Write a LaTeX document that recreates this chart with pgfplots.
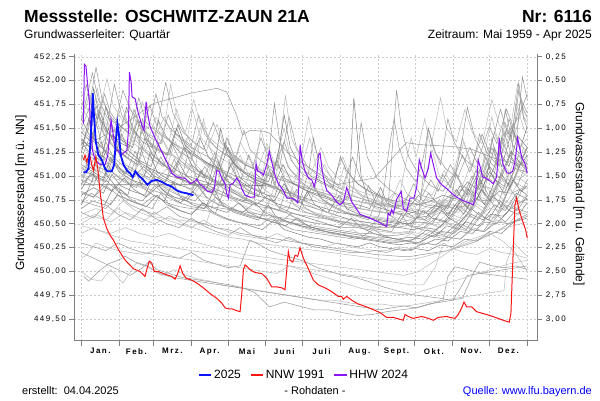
\documentclass[border=0pt]{standalone}
\usepackage{pgfplots}
\pgfplotsset{compat=1.18}
\usepackage{fontspec}
\setmainfont{Liberation Sans}
\newfontfamily\tickfont[LetterSpace=18]{Liberation Sans}
\definecolor{ga}{RGB}{150,150,150}
\definecolor{gb}{RGB}{185,185,185}
\definecolor{gc}{RGB}{125,125,125}
\definecolor{axgray}{RGB}{128,128,128}
\definecolor{gridgray}{RGB}{205,205,205}
\definecolor{c25}{RGB}{10,20,255}
\definecolor{cnnw}{RGB}{255,20,20}
\definecolor{chhw}{RGB}{140,20,250}
\definecolor{linkblue}{RGB}{0,0,255}
\pgfplotsset{
  A/.style={ga, line width=0.5pt, forget plot},
  B/.style={gb, line width=0.5pt, forget plot},
  C/.style={gc, line width=0.5pt, forget plot},
}
\begin{document}
\begin{tikzpicture}[x=1pt,y=1pt]
\useasboundingbox (0,0) rectangle (600,400);
\begin{axis}[
  at={(74.3pt,59.3pt)}, anchor=south west, scale only axis,
  width=463pt, height=286.7pt,
  xmin=-5.8, xmax=373.2, ymin=449.276, ymax=452.279,
  axis x line*=bottom, axis y line*=left,
  axis line style={draw=axgray, line width=1pt, -},
  xtick={0,31,59,90,120,151,181,212,243,273,304,334,365},
  xticklabels={},
  ytick={449.5,449.75,450,450.25,450.5,450.75,451,451.25,451.5,451.75,452,452.25},
  grid=major, major grid style={gridgray, dash pattern=on 2pt off 2pt, line width=0.5pt},
  tick style={axgray, line width=0.8pt}, major tick length=5pt, tick align=outside,
  yticklabel style={font=\tickfont\fontsize{8}{9}\selectfont,
    /pgf/number format/fixed, /pgf/number format/fixed zerofill,
    /pgf/number format/precision=2, /pgf/number format/use comma,
    /pgf/number format/assume math mode=true},
  extra x ticks={15.5,45,74.5,105,135.5,166,196.5,227.5,258,288.5,319,349.5},
  extra x tick labels={Jan.,Feb.,Mrz.,Apr.,Mai,Juni,Juli,Aug.,Sept.,Okt.,Nov.,Dez.},
  extra x tick style={grid=none, major tick length=0pt,
    tick label style={font=\tickfont\bfseries\fontsize{8}{9}\selectfont, yshift=-4pt}},
  legend style={at={(0.496,-0.12)}, anchor=center, draw=none, fill=none,
    legend columns=3, font=\fontsize{12}{14}\selectfont,
    /tikz/every even column/.append style={column sep=7pt}},
  legend image code/.code={\draw[line cap=butt, #1] (0pt,0pt) -- (12.5pt,0pt);},
  legend entries={2025,NNW 1991,HHW 2024},
]
\addlegendimage{draw=c25, line width=1.8pt}
\addlegendimage{draw=cnnw, line width=1.4pt}
\addlegendimage{draw=chhw, line width=1.4pt}
% ---------- gray yearly curves ----------
\addplot[C] coordinates {(0,451.32)(6,451.50)(10,451.92)(15,451.62)(22,451.45)(30,451.38)(37,451.72)(42,451.50)(50,451.36)(58,451.30)(63,451.58)(70,451.40)(80,451.26)(90,451.18)(97,451.40)(104,451.20)(112,451.08)(120,451.00)(130,450.94)(137,451.22)(143,451.02)(152,450.92)(162,450.86)(172,450.80)(182,450.74)(190,450.90)(197,450.76)(207,450.68)(217,450.62)(228,450.58)(238,450.55)(248,450.50)(258,450.48)(266,450.62)(273,450.56)(283,450.58)(292,450.72)(300,450.66)(310,450.90)(316,450.80)(326,451.06)(333,450.95)(343,451.24)(350,451.10)(357,451.42)(365,451.30)};
\addplot[A] coordinates {(0,451.60)(5,451.85)(9,452.08)(14,451.80)(21,451.62)(28,451.55)(34,451.90)(40,451.70)(47,451.58)(55,451.50)(61,451.86)(66,451.62)(74,451.48)(82,451.40)(90,451.32)(96,451.64)(101,451.44)(110,451.30)(118,451.22)(126,451.16)(133,451.48)(138,451.28)(147,451.16)(157,451.08)(166,451.36)(172,451.16)(181,451.02)(191,450.96)(201,450.90)(210,450.84)(220,450.80)(230,450.76)(240,450.72)(250,450.70)(259,450.66)(268,450.80)(276,450.72)(286,450.96)(292,450.84)(302,451.12)(308,450.98)(318,451.30)(324,451.14)(334,451.52)(340,451.34)(348,451.70)(354,451.50)(360,451.80)(365,451.66)};
\addplot[B] coordinates {(0,451.05)(8,451.20)(16,451.12)(24,451.42)(30,451.28)(38,451.18)(46,451.10)(53,451.36)(59,451.22)(68,451.12)(77,451.05)(86,451.30)(92,451.14)(101,451.02)(111,450.95)(121,450.88)(131,450.82)(139,451.05)(146,450.90)(156,450.80)(166,450.74)(176,450.70)(186,450.64)(196,450.60)(206,450.55)(214,450.72)(221,450.58)(231,450.50)(241,450.45)(251,450.42)(261,450.40)(271,450.42)(281,450.52)(290,450.48)(300,450.62)(310,450.56)(320,450.74)(330,450.66)(339,450.88)(347,450.80)(356,451.00)(365,450.92)};
\addplot[A] coordinates {(0,451.40)(7,451.30)(13,451.66)(20,451.46)(27,451.96)(33,451.64)(41,451.48)(48,451.40)(56,451.74)(62,451.52)(69,451.98)(75,451.66)(83,451.46)(92,451.36)(100,451.28)(108,451.56)(114,451.36)(123,451.22)(131,451.14)(140,451.08)(147,451.40)(153,451.20)(162,451.08)(170,451.62)(176,451.30)(185,451.10)(194,451.00)(204,450.92)(213,450.86)(222,451.20)(229,450.96)(239,450.84)(248,450.76)(257,450.70)(266,450.66)(275,450.62)(284,450.82)(291,450.72)(300,450.66)(307,451.02)(313,450.84)(322,450.78)(331,451.20)(337,450.98)(346,451.46)(352,451.22)(358,451.90)(362,451.60)(365,451.50)};
\addplot[C] coordinates {(0,450.92)(9,451.02)(18,450.96)(26,451.18)(33,451.06)(42,450.98)(51,451.10)(60,451.00)(69,450.94)(79,451.16)(86,451.00)(96,450.90)(105,450.84)(115,450.96)(123,450.84)(133,450.76)(143,450.70)(153,450.80)(161,450.68)(171,450.62)(181,450.58)(191,450.54)(201,450.50)(211,450.46)(221,450.56)(229,450.46)(239,450.40)(249,450.36)(259,450.34)(269,450.32)(279,450.40)(289,450.36)(299,450.48)(309,450.44)(319,450.60)(329,450.54)(338,450.70)(347,450.64)(356,450.82)(365,450.76)};
\addplot[B] coordinates {(0,451.72)(6,451.60)(12,451.82)(19,451.56)(26,451.46)(33,451.74)(39,451.52)(47,451.42)(54,451.36)(61,451.62)(67,451.44)(76,451.34)(85,451.28)(91,451.70)(97,451.42)(106,451.28)(115,451.18)(124,451.12)(130,451.36)(137,451.18)(146,451.08)(156,451.00)(164,451.28)(171,451.06)(181,450.96)(190,450.90)(199,451.12)(206,450.94)(216,450.84)(226,450.78)(236,450.74)(246,450.70)(256,450.82)(263,450.72)(273,450.68)(283,450.76)(293,450.70)(302,450.90)(309,450.80)(318,451.10)(324,450.96)(333,451.30)(340,451.14)(347,451.56)(353,451.36)(361,451.72)(365,451.60)};
\addplot[A] coordinates {(0,451.18)(7,451.42)(12,451.74)(18,451.44)(27,451.30)(36,451.20)(43,451.50)(49,451.30)(58,451.18)(67,451.10)(74,451.34)(81,451.16)(90,451.06)(100,450.98)(109,451.24)(116,451.04)(126,450.94)(136,450.86)(145,450.80)(154,451.06)(160,450.88)(170,450.78)(180,450.72)(189,450.94)(195,450.78)(205,450.68)(215,450.62)(225,450.58)(235,450.54)(244,450.82)(250,450.62)(260,450.52)(270,450.48)(280,450.46)(290,450.56)(300,450.52)(310,450.68)(318,450.60)(327,450.86)(334,450.74)(343,451.00)(350,450.90)(358,451.22)(365,451.12)};
\addplot[B] coordinates {(0,451.50)(8,451.38)(16,451.30)(24,451.56)(31,451.40)(40,451.28)(49,451.22)(58,451.16)(66,451.40)(73,451.24)(82,451.12)(92,451.04)(102,450.98)(112,450.92)(122,450.86)(132,450.80)(142,450.76)(152,450.72)(162,450.68)(172,450.66)(182,450.62)(192,450.60)(202,450.58)(212,450.56)(222,450.54)(232,450.52)(242,450.50)(252,450.48)(260,450.76)(265,451.10)(270,451.40)(274,451.20)(281,451.60)(286,451.30)(294,451.82)(299,451.50)(307,451.36)(314,451.70)(320,451.46)(328,451.34)(336,451.80)(342,451.54)(350,451.40)(357,451.96)(362,451.70)(365,451.62)};
\addplot[C] coordinates {(0,450.80)(10,450.88)(18,450.82)(25,451.02)(32,450.90)(42,450.84)(52,450.80)(59,451.00)(66,450.86)(76,450.78)(86,450.74)(95,450.90)(102,450.78)(112,450.70)(122,450.66)(132,450.62)(142,450.72)(150,450.62)(160,450.56)(170,450.52)(180,450.48)(190,450.44)(200,450.42)(210,450.40)(220,450.36)(230,450.34)(240,450.32)(250,450.30)(260,450.28)(270,450.30)(280,450.28)(290,450.34)(300,450.32)(310,450.42)(320,450.40)(330,450.52)(340,450.50)(350,450.64)(358,450.60)(365,450.72)};
\addplot[A] coordinates {(0,451.22)(6,451.10)(14,451.04)(20,451.36)(26,451.20)(35,451.10)(44,451.04)(50,451.60)(56,451.34)(64,451.16)(73,451.06)(82,450.98)(88,451.26)(95,451.06)(105,450.96)(115,450.90)(124,451.16)(130,450.98)(140,450.88)(150,450.82)(158,451.76)(162,451.40)(169,451.10)(178,450.96)(188,450.86)(198,450.80)(208,450.74)(218,450.70)(228,450.66)(235,450.90)(241,450.72)(251,450.64)(261,450.60)(271,450.56)(281,450.54)(291,450.66)(300,450.60)(310,450.76)(318,450.66)(327,450.96)(333,450.80)(342,450.74)(350,451.04)(357,450.90)(365,451.16)};
\addplot[B] coordinates {(0,451.58)(7,451.86)(13,451.60)(21,452.02)(26,451.74)(34,451.58)(43,451.50)(50,451.78)(56,451.56)(64,451.46)(72,451.38)(78,451.70)(84,451.46)(93,451.34)(102,451.26)(111,451.54)(117,451.32)(126,451.20)(135,451.12)(144,451.06)(152,451.34)(158,451.14)(167,451.04)(177,450.96)(187,451.40)(192,451.10)(202,450.98)(212,450.90)(222,450.84)(232,450.78)(242,450.74)(252,450.70)(261,450.96)(267,450.80)(277,450.74)(287,451.28)(293,451.00)(302,450.90)(312,451.40)(318,451.14)(327,451.02)(336,451.62)(342,451.32)(350,451.20)(356,451.76)(362,451.50)(365,451.44)};
\addplot[C] coordinates {(0,450.66)(9,450.74)(19,450.70)(27,450.90)(34,450.78)(44,450.72)(53,450.68)(62,450.80)(70,450.70)(80,450.64)(90,450.60)(100,450.72)(108,450.62)(118,450.56)(128,450.52)(138,450.48)(148,450.44)(158,450.54)(166,450.44)(176,450.40)(186,450.36)(196,450.34)(206,450.30)(216,450.28)(226,450.26)(236,450.30)(244,450.26)(254,450.24)(264,450.22)(274,450.24)(284,450.22)(294,450.28)(304,450.26)(314,450.34)(324,450.32)(334,450.42)(344,450.40)(354,450.52)(365,450.56)};
\addplot[A] coordinates {(0,451.00)(10,451.12)(20,451.06)(29,451.28)(36,451.12)(46,451.04)(56,450.98)(65,451.20)(72,451.04)(82,450.96)(92,450.90)(101,451.10)(108,450.94)(118,450.86)(128,450.80)(138,450.74)(148,450.70)(158,450.66)(168,450.62)(176,450.86)(182,450.68)(192,450.60)(202,450.56)(212,450.52)(222,450.50)(232,450.48)(242,450.46)(250,450.50)(254,451.20)(258,451.90)(262,451.50)(268,451.20)(276,451.02)(286,450.90)(296,450.84)(306,451.04)(312,450.90)(322,450.82)(332,451.14)(338,450.96)(348,450.88)(358,451.16)(365,451.04)};
\addplot[B] coordinates {(0,451.88)(5,451.70)(11,451.58)(18,451.80)(24,451.60)(32,451.50)(39,451.74)(45,451.56)(53,451.46)(60,451.40)(68,451.62)(74,451.44)(83,451.34)(92,451.28)(99,451.56)(105,451.36)(114,451.26)(123,451.20)(132,451.14)(141,451.08)(150,451.02)(159,450.98)(168,450.94)(178,450.90)(188,450.86)(198,450.82)(208,450.78)(215,451.10)(220,450.90)(230,450.80)(240,450.74)(250,450.70)(260,450.68)(270,450.70)(280,450.86)(287,450.80)(297,451.06)(303,450.92)(313,451.36)(319,451.14)(329,451.04)(338,451.46)(344,451.24)(353,451.50)(359,451.30)(365,451.40)};
\addplot[C] coordinates {(0,451.46)(8,451.36)(15,451.68)(21,451.46)(30,451.36)(39,451.30)(46,451.58)(52,451.40)(61,451.28)(70,451.22)(78,451.50)(84,451.30)(94,451.20)(104,451.12)(113,451.06)(120,451.30)(127,451.10)(137,451.00)(147,450.94)(157,450.88)(165,451.12)(172,450.94)(182,450.86)(192,450.80)(202,450.76)(212,450.70)(219,450.80)(223,451.82)(229,451.00)(236,450.70)(246,450.66)(256,450.62)(266,450.60)(276,450.64)(286,450.60)(296,450.70)(306,450.66)(316,450.86)(324,450.76)(334,451.04)(342,450.92)(351,451.22)(358,451.08)(365,451.30)};
\addplot[B] coordinates {(0,451.14)(8,451.28)(14,451.62)(20,451.40)(29,451.26)(38,451.18)(45,451.46)(51,451.28)(60,451.16)(70,451.10)(77,451.36)(83,451.18)(93,451.06)(103,451.00)(110,451.22)(117,451.04)(127,450.94)(137,450.88)(144,451.10)(150,450.94)(160,450.84)(170,450.78)(177,451.04)(183,450.86)(193,450.76)(203,450.70)(213,450.64)(223,450.60)(233,450.58)(243,450.56)(253,450.54)(263,450.52)(273,450.56)(283,450.54)(293,450.62)(303,450.58)(313,450.74)(321,450.66)(331,450.90)(338,450.78)(347,451.10)(354,450.96)(362,451.30)(365,451.26)};
\addplot[A] coordinates {(0,451.50)(6,451.70)(12,452.14)(17,451.80)(24,451.62)(32,451.52)(40,451.44)(47,451.82)(53,451.56)(62,451.46)(71,451.38)(80,451.30)(89,451.24)(97,451.18)(106,451.12)(116,451.06)(126,451.00)(136,450.96)(146,450.92)(156,450.88)(166,450.84)(176,450.80)(186,450.76)(196,450.72)(206,450.70)(216,450.68)(226,450.66)(236,450.64)(246,450.62)(256,450.62)(266,450.64)(276,450.80)(282,450.70)(292,450.68)(302,450.80)(310,450.74)(320,451.00)(326,450.86)(336,451.30)(342,451.10)(350,451.60)(356,451.36)(361,452.04)(365,451.80)};
\addplot[B] coordinates {(0,451.26)(5,451.48)(9,451.80)(14,451.52)(22,451.38)(30,451.28)(35,451.64)(41,451.42)(50,451.30)(59,451.22)(64,451.46)(70,451.28)(79,451.18)(88,451.10)(94,451.32)(100,451.14)(109,451.04)(118,450.98)(125,451.20)(131,451.02)(140,450.94)(149,450.88)(155,451.08)(161,450.92)(170,450.84)(179,450.78)(188,450.74)(194,451.00)(199,450.80)(209,450.72)(219,450.66)(229,450.62)(239,450.58)(249,450.56)(259,450.54)(268,450.70)(274,450.60)(284,450.56)(293,450.76)(299,450.64)(309,450.62)(317,450.92)(323,450.76)(332,450.70)(341,451.08)(347,450.90)(356,451.24)(365,451.10)};
\addplot[A] coordinates {(0,450.90)(8,451.30)(12,451.56)(18,451.28)(27,451.12)(36,451.02)(44,451.26)(50,451.08)(59,450.98)(68,450.92)(76,451.18)(82,451.00)(91,450.92)(101,450.86)(110,450.80)(117,451.04)(123,450.86)(133,450.78)(143,450.72)(152,450.68)(162,450.64)(168,450.88)(174,450.70)(184,450.62)(194,450.58)(204,450.54)(214,450.50)(224,450.48)(234,450.46)(244,450.44)(254,450.42)(262,450.60)(268,450.48)(278,450.44)(288,450.42)(298,450.52)(306,450.46)(316,450.60)(324,450.54)(334,450.76)(341,450.62)(350,450.88)(357,450.76)(365,450.96)};
\addplot[C] coordinates {(0,451.36)(7,451.24)(16,451.16)(22,451.50)(28,451.30)(37,451.20)(46,451.12)(52,451.40)(58,451.22)(67,451.12)(76,451.04)(84,451.30)(90,451.12)(99,451.02)(108,450.96)(116,450.90)(122,451.12)(128,450.96)(138,450.88)(148,450.82)(158,450.78)(164,451.00)(170,450.84)(180,450.76)(190,450.70)(200,450.66)(210,450.62)(220,450.60)(230,450.58)(240,450.54)(250,450.52)(260,450.50)(270,450.50)(280,450.64)(287,450.56)(297,450.52)(306,450.70)(313,450.60)(323,450.84)(330,450.70)(339,450.96)(346,450.82)(355,451.08)(365,451.04)};
\addplot[B] coordinates {(0,451.02)(9,450.94)(16,451.26)(22,451.08)(31,450.98)(40,450.92)(47,451.14)(53,450.98)(62,450.90)(71,450.84)(80,451.02)(86,450.88)(95,450.80)(105,450.76)(112,450.96)(118,450.80)(128,450.72)(138,450.66)(148,450.62)(156,450.80)(162,450.66)(172,450.58)(182,450.54)(192,450.50)(200,450.70)(206,450.56)(216,450.50)(226,450.46)(236,450.44)(246,450.42)(256,450.40)(266,450.42)(276,450.40)(286,450.50)(294,450.46)(304,450.56)(312,450.52)(322,450.70)(330,450.62)(340,450.82)(348,450.72)(357,450.92)(365,450.86)};
\addplot[A] coordinates {(0,451.70)(4,451.96)(8,451.74)(13,451.60)(19,451.86)(24,451.66)(31,451.54)(38,451.46)(43,451.70)(49,451.50)(57,451.40)(65,451.34)(71,451.64)(77,451.44)(86,451.34)(95,451.26)(104,451.20)(113,451.14)(119,451.40)(125,451.22)(134,451.12)(144,451.06)(154,451.00)(164,450.96)(174,450.92)(184,450.88)(194,450.84)(204,450.80)(214,450.76)(224,450.74)(234,450.72)(244,450.70)(254,450.68)(264,450.70)(272,450.92)(278,450.80)(288,450.76)(296,451.02)(302,450.88)(312,451.22)(318,451.04)(328,451.44)(334,451.24)(343,451.70)(349,451.44)(357,451.60)(365,451.86)};
\addplot[C] coordinates {(0,451.12)(10,451.04)(18,450.98)(24,451.20)(31,451.04)(41,450.96)(50,450.92)(56,451.24)(62,451.04)(72,450.96)(82,450.90)(91,450.86)(98,451.06)(104,450.90)(114,450.84)(124,450.78)(134,450.74)(142,450.96)(148,450.80)(158,450.72)(168,450.68)(178,450.64)(185,450.84)(191,450.70)(201,450.62)(211,450.58)(221,450.54)(231,450.52)(241,450.50)(251,450.48)(261,450.46)(271,450.44)(281,450.46)(291,450.44)(301,450.56)(309,450.50)(319,450.66)(327,450.58)(337,450.80)(344,450.68)(353,450.96)(360,450.84)(365,450.90)};
\addplot[B] coordinates {(0,450.98)(10,451.08)(20,451.02)(30,450.96)(40,451.10)(50,451.00)(60,450.94)(70,451.08)(80,450.98)(90,450.92)(100,450.86)(110,450.82)(120,450.78)(130,450.74)(140,450.70)(148,450.98)(152,451.30)(158,451.10)(166,451.50)(171,451.20)(178,451.04)(186,451.62)(191,451.30)(199,451.08)(206,450.96)(214,451.20)(220,451.00)(230,450.88)(240,450.80)(250,450.74)(260,450.70)(270,450.66)(280,450.64)(290,450.62)(300,450.68)(310,450.64)(320,450.78)(330,450.72)(340,450.92)(350,450.84)(358,451.06)(365,451.00)};
\addplot[A] coordinates {(0,450.72)(8,450.82)(16,450.76)(24,450.70)(32,450.86)(40,450.76)(49,450.70)(58,450.66)(65,450.82)(72,450.70)(81,450.64)(90,450.60)(99,450.72)(106,450.62)(116,450.56)(126,450.52)(136,450.50)(146,450.48)(156,450.58)(163,450.50)(173,450.44)(183,450.42)(193,450.40)(203,450.38)(213,450.36)(223,450.34)(233,450.36)(243,450.34)(253,450.32)(263,450.32)(273,450.34)(283,450.44)(291,450.38)(301,450.36)(311,450.50)(319,450.44)(329,450.42)(339,450.60)(347,450.52)(357,450.66)(365,450.62)};
\addplot[C] coordinates {(0,451.60)(6,451.44)(14,451.34)(20,451.72)(25,451.50)(33,451.38)(42,451.30)(48,451.58)(54,451.38)(63,451.28)(72,451.22)(79,451.54)(85,451.32)(94,451.22)(103,451.14)(112,451.08)(118,451.34)(124,451.14)(134,451.04)(144,450.98)(153,450.94)(160,451.16)(166,450.98)(176,450.90)(186,450.84)(196,450.80)(206,450.76)(216,450.72)(226,450.70)(236,450.66)(245,450.88)(250,450.72)(260,450.66)(270,450.62)(280,450.60)(290,450.70)(297,450.64)(307,450.86)(313,450.74)(323,451.06)(329,450.88)(338,451.30)(344,451.10)(353,451.50)(359,451.28)(365,451.52)};
\addplot[B] coordinates {(0,451.44)(8,451.62)(13,451.92)(17,451.68)(24,451.50)(33,451.40)(40,451.34)(46,451.60)(52,451.40)(61,451.30)(70,451.24)(80,451.18)(87,451.42)(93,451.22)(102,451.12)(112,451.06)(122,451.00)(130,451.22)(136,451.04)(146,450.96)(156,450.90)(166,450.86)(176,450.82)(183,451.06)(189,450.88)(199,450.80)(209,450.74)(219,450.70)(229,450.66)(239,450.64)(249,450.62)(259,450.60)(269,450.58)(279,450.62)(289,450.60)(297,450.76)(303,450.66)(313,450.64)(321,450.94)(327,450.78)(337,450.72)(345,451.12)(351,450.92)(360,451.34)(365,451.20)};
\addplot[A] coordinates {(0,450.84)(10,450.78)(20,450.96)(30,450.84)(40,450.78)(50,450.74)(60,450.90)(70,450.78)(80,450.72)(90,450.68)(100,450.66)(110,450.78)(118,450.68)(128,450.62)(138,450.58)(148,450.56)(158,450.54)(168,450.52)(178,450.50)(188,450.48)(198,450.46)(208,450.44)(218,450.42)(228,450.40)(238,450.40)(248,450.38)(258,450.38)(268,450.40)(276,450.62)(280,451.00)(284,451.50)(288,451.30)(294,451.12)(300,451.60)(305,451.36)(312,451.20)(320,451.10)(326,451.44)(332,451.24)(340,451.12)(348,451.50)(354,451.30)(361,451.20)(365,451.30)};
\addplot[C] coordinates {(0,451.24)(6,451.60)(10,451.40)(18,451.28)(27,451.20)(33,451.44)(39,451.26)(48,451.16)(57,451.10)(63,451.34)(69,451.16)(78,451.06)(87,451.00)(96,450.96)(106,450.92)(112,451.14)(118,450.96)(128,450.88)(138,450.82)(148,450.78)(158,450.74)(166,450.92)(172,450.78)(182,450.70)(192,450.66)(202,450.62)(211,450.80)(217,450.66)(227,450.60)(237,450.56)(247,450.54)(257,450.52)(267,450.50)(277,450.52)(287,450.50)(295,450.64)(301,450.56)(311,450.74)(318,450.64)(328,450.86)(335,450.74)(344,451.02)(351,450.88)(360,451.14)(365,451.08)};
\addplot[B] coordinates {(0,450.50)(10,450.58)(20,450.54)(30,450.66)(40,450.58)(50,450.52)(60,450.62)(70,450.54)(80,450.50)(90,450.46)(100,450.54)(110,450.46)(120,450.42)(130,450.38)(140,450.36)(150,450.34)(160,450.40)(170,450.34)(180,450.30)(190,450.28)(200,450.26)(210,450.30)(220,450.26)(230,450.24)(240,450.22)(250,450.22)(260,450.26)(270,450.24)(280,450.30)(290,450.28)(300,450.36)(310,450.34)(320,450.46)(330,450.42)(340,450.54)(350,450.50)(358,450.62)(365,450.60)};
\addplot[A] coordinates {(0,451.20)(8,451.12)(16,451.36)(22,451.18)(31,451.08)(40,451.02)(48,451.30)(54,451.10)(63,451.00)(72,450.94)(81,450.90)(90,451.12)(96,450.94)(106,450.86)(116,450.80)(126,450.76)(136,450.72)(146,450.68)(156,450.66)(166,450.62)(176,450.60)(186,450.58)(196,450.56)(206,450.54)(216,450.52)(226,450.50)(236,450.48)(246,450.46)(256,450.46)(266,450.48)(276,450.58)(284,450.52)(294,450.70)(300,450.60)(310,450.76)(316,450.66)(324,450.98)(330,450.80)(336,451.40)(341,451.10)(347,451.70)(352,451.40)(358,451.98)(362,451.62)(365,451.56)};
\addplot[C] coordinates {(0,450.70)(9,450.96)(14,451.30)(20,451.02)(29,450.88)(38,450.80)(44,451.06)(50,450.88)(59,450.80)(68,450.74)(75,450.94)(81,450.78)(91,450.70)(101,450.66)(109,450.86)(115,450.70)(125,450.62)(135,450.58)(145,450.54)(153,450.70)(159,450.58)(169,450.52)(179,450.48)(189,450.46)(199,450.44)(209,450.42)(219,450.40)(229,450.38)(239,450.36)(249,450.36)(259,450.34)(269,450.36)(279,450.34)(289,450.42)(297,450.38)(307,450.50)(315,450.44)(325,450.62)(333,450.54)(343,450.74)(350,450.64)(359,450.86)(365,450.80)};
\addplot[B] coordinates {(0,451.30)(10,451.22)(20,451.40)(28,451.28)(36,451.50)(43,451.34)(52,451.26)(60,451.46)(66,451.34)(73,451.96)(78,451.64)(85,451.46)(92,451.80)(97,451.56)(105,451.40)(114,451.30)(123,451.22)(132,451.16)(141,451.10)(150,451.04)(160,451.00)(170,450.96)(180,450.92)(190,450.88)(200,450.84)(210,450.80)(220,450.76)(230,450.72)(240,450.70)(250,450.68)(260,450.66)(270,450.64)(280,450.66)(290,450.74)(300,450.70)(310,450.86)(320,450.80)(330,451.00)(340,450.92)(350,451.16)(360,451.08)(365,451.20)};
% spiky mid-year curves
\addplot[B] coordinates {(0,451.00)(10,450.94)(20,451.10)(30,451.00)(40,450.92)(50,450.88)(60,450.96)(70,450.88)(80,450.84)(90,450.80)(96,451.30)(100,451.60)(105,451.30)(112,451.10)(120,451.40)(125,451.20)(133,451.04)(141,450.96)(147,451.50)(152,451.22)(160,451.06)(167,451.84)(172,451.40)(180,451.16)(188,451.02)(196,451.30)(202,451.10)(210,450.98)(218,450.90)(228,450.84)(238,450.80)(248,450.76)(258,450.72)(268,450.70)(278,450.70)(288,450.74)(298,450.72)(308,450.80)(318,450.78)(328,450.90)(338,450.86)(348,451.00)(358,450.96)(365,451.04)};
\addplot[A] coordinates {(0,450.82)(10,450.78)(20,450.90)(30,450.80)(40,450.74)(50,450.70)(60,450.80)(70,450.72)(80,450.68)(90,450.66)(100,450.64)(110,450.62)(118,450.90)(122,451.20)(127,451.00)(135,450.86)(145,450.78)(153,451.10)(158,450.90)(168,450.78)(178,450.72)(186,451.04)(190,451.40)(195,451.10)(203,450.92)(212,450.82)(221,450.76)(225,451.10)(229,451.56)(234,451.20)(242,450.98)(252,450.86)(262,450.78)(272,450.72)(282,450.68)(292,450.66)(302,450.70)(312,450.68)(322,450.76)(332,450.74)(342,450.84)(352,450.82)(365,450.90)};
\addplot[C] coordinates {(0,451.38)(9,451.28)(18,451.20)(26,451.44)(33,451.28)(43,451.18)(53,451.10)(63,451.04)(73,451.00)(83,450.96)(93,450.92)(103,450.88)(110,451.20)(114,451.50)(119,451.24)(128,451.08)(137,451.00)(146,450.94)(155,450.90)(162,451.30)(166,451.64)(171,451.30)(179,451.10)(188,451.00)(197,450.94)(206,450.88)(212,451.20)(217,451.06)(226,450.92)(236,450.84)(246,450.78)(256,450.74)(266,450.72)(276,450.70)(286,450.74)(296,450.80)(306,450.76)(316,450.94)(324,450.86)(334,451.10)(342,450.98)(352,451.26)(360,451.12)(365,451.22)};
\addplot[B] coordinates {(0,450.60)(12,450.66)(24,450.60)(34,450.74)(44,450.64)(56,450.58)(68,450.56)(80,450.54)(92,450.52)(102,450.50)(110,450.80)(114,451.06)(120,450.84)(130,450.70)(140,450.62)(150,450.58)(158,450.90)(162,451.20)(167,450.96)(176,450.80)(186,450.70)(196,450.64)(206,450.60)(214,450.84)(219,451.08)(224,450.86)(234,450.72)(244,450.64)(254,450.58)(264,450.54)(274,450.52)(284,450.50)(294,450.52)(304,450.50)(314,450.58)(324,450.56)(334,450.66)(344,450.64)(354,450.74)(365,450.72)};
\addplot[A] coordinates {(0,451.08)(10,451.00)(20,450.94)(28,451.14)(36,451.00)(46,450.92)(56,450.86)(66,450.82)(76,450.78)(86,450.74)(96,450.70)(106,450.68)(116,450.66)(126,450.64)(136,450.62)(146,450.60)(156,450.58)(166,450.56)(176,450.54)(186,450.52)(196,450.50)(206,450.48)(216,450.46)(226,450.46)(236,450.44)(244,450.60)(248,450.90)(252,451.30)(256,451.60)(260,451.30)(266,451.08)(274,450.94)(280,451.20)(284,451.50)(290,451.24)(298,451.08)(306,451.00)(312,451.40)(316,451.72)(322,451.40)(330,451.20)(338,451.10)(344,451.40)(350,451.20)(358,451.10)(365,451.30)};
% middle group
\addplot[A] coordinates {(0,450.74)(10,450.70)(20,450.66)(30,450.80)(40,450.70)(50,450.64)(60,450.60)(70,450.68)(80,450.58)(90,450.54)(100,450.50)(110,450.46)(120,450.44)(130,450.40)(140,450.38)(150,450.36)(160,450.34)(170,450.32)(180,450.30)(190,450.28)(200,450.26)(210,450.24)(220,450.22)(230,450.20)(240,450.18)(250,450.17)(260,450.16)(270,450.16)(280,450.18)(290,450.20)(300,450.22)(310,450.26)(320,450.30)(330,450.36)(340,450.42)(350,450.50)(365,450.58)};
\addplot[B] coordinates {(0,450.55)(12,450.60)(24,450.52)(36,450.62)(48,450.56)(60,450.50)(72,450.58)(84,450.50)(96,450.44)(108,450.40)(120,450.36)(132,450.34)(144,450.30)(156,450.28)(168,450.26)(180,450.24)(192,450.22)(204,450.20)(216,450.18)(228,450.16)(240,450.14)(252,450.12)(264,450.12)(276,450.14)(288,450.18)(300,450.22)(312,450.28)(324,450.34)(336,450.40)(348,450.46)(365,450.52)};
\addplot[gc, line width=0.7pt, forget plot] coordinates {(1,450.91)(40,450.91)(80,450.91)(120,450.91)(150,450.90)};
\addplot[A] coordinates {(0,450.62)(10,450.56)(20,450.70)(30,450.60)(40,450.54)(50,450.66)(60,450.56)(70,450.50)(80,450.46)(90,450.56)(100,450.48)(110,450.42)(120,450.38)(130,450.46)(140,450.38)(150,450.34)(160,450.30)(170,450.36)(180,450.30)(190,450.26)(200,450.24)(210,450.22)(220,450.20)(230,450.20)(240,450.22)(250,450.20)(260,450.24)(270,450.22)(280,450.30)(290,450.28)(300,450.36)(310,450.34)(320,450.44)(330,450.42)(340,450.52)(350,450.50)(365,450.60)};
\addplot[C] coordinates {(0,450.86)(8,451.04)(15,450.92)(25,450.84)(35,450.98)(43,450.86)(53,450.78)(63,450.90)(71,450.80)(81,450.72)(91,450.84)(99,450.72)(109,450.66)(119,450.62)(129,450.72)(137,450.62)(147,450.56)(157,450.52)(167,450.48)(177,450.56)(185,450.48)(195,450.44)(205,450.40)(215,450.38)(225,450.36)(235,450.34)(245,450.32)(255,450.30)(265,450.32)(275,450.30)(285,450.36)(295,450.42)(305,450.40)(315,450.52)(325,450.48)(335,450.60)(345,450.58)(355,450.70)(365,450.76)};
\addplot[B] coordinates {(0,451.10)(9,451.00)(18,450.94)(27,451.16)(34,451.00)(43,450.92)(52,450.86)(61,451.04)(68,450.90)(78,450.82)(88,450.76)(97,450.88)(104,450.76)(114,450.70)(124,450.64)(134,450.60)(144,450.56)(154,450.62)(162,450.54)(172,450.50)(182,450.46)(192,450.42)(202,450.40)(212,450.38)(222,450.44)(230,450.38)(240,450.36)(250,450.34)(260,450.32)(270,450.40)(278,450.36)(288,450.44)(298,450.40)(308,450.50)(318,450.46)(328,450.62)(338,450.56)(348,450.74)(356,450.66)(365,450.82)};
\addplot[A] coordinates {(0,450.96)(10,450.90)(19,451.20)(25,451.04)(35,450.94)(45,450.88)(55,451.08)(63,450.92)(73,450.84)(83,450.78)(93,450.74)(103,450.88)(111,450.76)(121,450.68)(131,450.62)(141,450.58)(151,450.54)(161,450.50)(171,450.60)(179,450.52)(189,450.46)(199,450.42)(209,450.40)(219,450.38)(229,450.36)(239,450.44)(247,450.38)(257,450.34)(267,450.32)(277,450.30)(287,450.38)(297,450.34)(307,450.46)(317,450.42)(327,450.58)(337,450.52)(347,450.70)(357,450.64)(365,450.80)};
% sparse smooth year
\addplot[A] coordinates {(0,451.30)(30,451.50)(59,451.76)(90,451.87)(111,451.92)(119,451.88)(127,451.64)(132,451.43)(138,451.48)(149,451.47)(154,451.45)(171,451.22)(190,451.06)(209,450.91)(240,450.98)(266,451.35)(277,451.33)(304,451.31)(320,451.28)(337,451.19)(365,451.10)};
% lower group
\addplot[A] coordinates {(0,450.20)(10,450.14)(20,450.08)(30,450.02)(40,449.96)(50,450.04)(55,450.10)(62,450.02)(72,449.98)(82,449.94)(92,449.92)(102,449.90)(112,449.88)(122,449.86)(132,449.83)(142,449.78)(154,449.63)(166,449.68)(178,449.64)(190,449.60)(202,449.60)(214,449.57)(226,449.54)(238,449.55)(250,449.58)(262,449.60)(274,449.62)(286,449.66)(296,449.70)(300,449.95)(306,450.05)(316,450.02)(328,449.98)(340,449.96)(352,449.94)(365,449.92)};
\addplot[B] coordinates {(0,450.00)(8,449.92)(16,449.90)(24,450.02)(34,449.88)(45,450.09)(55,450.04)(66,449.96)(76,450.02)(86,449.96)(96,449.92)(106,449.90)(116,449.86)(126,449.84)(136,449.82)(146,449.80)(156,449.78)(166,449.76)(176,449.74)(186,449.72)(196,449.70)(206,449.70)(216,449.68)(226,449.66)(236,449.66)(246,449.66)(256,449.64)(266,449.64)(276,449.66)(286,449.68)(296,449.70)(306,449.72)(316,449.74)(326,449.76)(336,449.78)(346,449.80)(348,450.10)(354,450.30)(360,450.22)(365,450.16)};
\addplot[A] coordinates {(0,450.30)(10,450.26)(20,450.22)(30,450.30)(40,450.24)(50,450.20)(60,450.18)(70,450.16)(80,450.14)(90,450.20)(100,450.12)(110,450.08)(120,450.04)(130,450.06)(138,450.33)(146,450.28)(154,450.22)(164,450.18)(174,450.14)(184,450.10)(193,450.04)(204,450.00)(214,449.96)(224,449.94)(234,449.90)(247,449.84)(258,449.80)(270,449.76)(282,449.74)(294,449.72)(302,449.70)(312,449.72)(320,449.96)(326,450.10)(336,450.06)(346,450.04)(356,450.06)(365,450.02)};
\addplot[B] coordinates {(0,450.40)(10,450.46)(20,450.40)(30,450.36)(40,450.32)(50,450.30)(60,450.28)(70,450.26)(80,450.24)(90,450.22)(100,450.20)(110,450.18)(120,450.16)(130,450.14)(140,450.12)(150,450.10)(160,450.08)(170,450.06)(180,450.04)(190,450.02)(200,450.00)(210,449.98)(220,449.96)(230,449.94)(240,449.92)(250,449.90)(260,449.88)(270,449.86)(280,449.86)(290,450.05)(296,450.30)(304,450.24)(314,450.20)(324,450.18)(334,450.24)(344,450.20)(354,450.18)(365,450.14)};
\addplot[B] coordinates {(0,450.48)(12,450.44)(24,450.40)(36,450.46)(48,450.40)(60,450.36)(72,450.40)(84,450.34)(96,450.30)(108,450.26)(120,450.22)(132,450.18)(144,450.16)(156,450.14)(168,450.12)(180,450.10)(192,450.08)(204,450.06)(216,450.04)(228,450.02)(240,450.00)(252,449.98)(264,449.96)(276,450.00)(288,450.10)(300,450.20)(312,450.30)(324,450.36)(334,450.40)(345,450.32)(355,450.20)(365,450.00)};
\addplot[A] coordinates {(2,449.95)(6,449.90)(14,450.00)(22,450.08)(30,450.12)(36,450.16)(44,450.10)(54,450.06)(64,449.98)(74,449.94)(84,449.92)(94,449.90)(104,449.88)(114,449.86)(124,449.84)(134,449.82)(144,449.80)(154,449.78)(164,449.76)(174,449.74)(184,449.72)(194,449.70)(204,449.68)(214,449.66)(224,449.64)(234,449.62)(244,449.60)(254,449.62)(264,449.64)(274,449.62)(284,449.66)(294,449.68)(304,449.70)(310,449.82)(316,449.96)(326,449.98)(336,450.00)(346,450.02)(356,450.04)(365,450.06)};
\addplot[B] coordinates {(0,450.14)(4,450.17)(12,450.30)(20,450.26)(30,450.22)(40,450.20)(50,450.18)(60,450.22)(70,450.18)(80,450.14)(90,450.12)(100,450.10)(110,450.08)(120,450.06)(130,450.04)(140,450.02)(150,450.00)(160,449.98)(170,450.06)(180,450.02)(190,449.98)(200,449.94)(210,449.90)(220,449.86)(230,449.82)(240,449.80)(250,449.78)(260,449.76)(270,449.76)(280,449.80)(290,449.84)(300,449.88)(310,449.92)(320,449.96)(330,450.00)(340,450.04)(350,450.08)(365,450.12)};
% ---------- highlighted years ----------
\addplot[chhw, line width=1pt, forget plot] coordinates {(1.6,451.55)(2.5,452.17)(3.8,452.15)(4.9,451.99)(6.5,451.78)(7.7,451.47)(9.3,451.26)(11.2,451.17)(15.3,451.12)(19.4,451.12)(21.6,451.22)(23.5,451.48)(24.3,451.59)(25.7,451.47)(27.6,451.29)(30.3,451.26)(32.2,451.22)(34.4,451.24)(37.2,451.27)(38.5,451.47)(39.3,452.09)(40.7,451.99)(41.5,451.83)(44,451.81)(46.6,451.66)(49.4,451.54)(51.3,451.48)(53,451.78)(54,451.67)(56.2,451.52)(60.3,451.40)(64.4,451.29)(69.9,451.15)(74,451.03)(78.1,450.99)(82.2,450.98)(84.9,450.98)(89,450.92)(92.2,450.94)(94.4,450.97)(96.6,450.92)(99.8,450.89)(103.1,450.84)(106.7,450.83)(108.8,450.87)(110.8,451.06)(112.7,451.05)(114.9,450.98)(117.6,450.92)(118.9,450.82)(120.3,450.77)(121.7,450.91)(123.9,450.92)(127.1,450.98)(129.3,450.94)(131.3,450.87)(134,450.80)(138.1,450.78)(141.6,450.78)(143,451.13)(144.3,451.05)(146.8,451.04)(148.9,451.01)(151.7,451.12)(153.8,451.26)(155.8,451.15)(158.5,451.01)(161.2,450.92)(165.3,450.85)(168.1,450.77)(172.2,450.77)(174.9,450.75)(177.1,450.72)(178.2,450.94)(179,451.33)(180.9,451.15)(183.1,451.05)(185.8,450.98)(188.6,450.96)(190.7,450.89)(192.7,451.01)(194,451.22)(195.4,451.24)(197.2,451.05)(198.9,450.94)(200.8,450.85)(204.9,450.80)(209,450.73)(211.7,450.70)(214.4,450.73)(215.8,450.80)(217.2,450.88)(218.8,450.82)(221.3,450.73)(224,450.68)(228.1,450.60)(236.3,450.56)(244.5,450.51)(249.9,450.47)(251.2,450.61)(252.6,450.59)(254,450.65)(255.3,450.61)(256.7,450.68)(258.1,450.76)(261.8,450.84)(263.5,450.66)(266.3,450.63)(269,450.77)(272.3,450.77)(274.5,450.89)(275.8,451.06)(276.6,451.17)(278.6,451.08)(281.3,450.98)(284,451.08)(285.9,451.24)(288.1,451.12)(290.8,450.98)(294.9,450.91)(299,450.87)(303.1,450.82)(307.2,450.78)(311.3,450.75)(315.4,450.73)(320.8,450.70)(322.2,450.77)(323.5,450.94)(324.8,451.17)(326.8,451.08)(328.4,450.99)(331.1,450.98)(334.4,450.95)(337.1,450.92)(339.9,450.99)(341.2,451.22)(342.1,451.40)(343.2,451.26)(345.3,451.12)(348.6,451.03)(350.8,451.03)(353,451.05)(354.9,451.15)(356.3,451.29)(357.1,451.40)(358.4,451.32)(360.4,451.20)(363.1,451.13)(365,451.03)};
\addplot[cnnw, line width=1pt, forget plot] coordinates {(1.6,451.17)(3,451.22)(4.4,451.15)(6.5,451.24)(8.5,451.12)(9.8,451.06)(11.8,451.20)(13.4,451.08)(15.3,450.84)(18,450.56)(20.8,450.45)(23.5,450.38)(26.2,450.33)(30.3,450.23)(35.8,450.12)(42.6,450.03)(48,450.00)(52.1,449.95)(53.5,450.02)(55.6,450.11)(57.6,450.09)(59.7,450.00)(63,450.00)(67.1,449.98)(71.2,449.96)(74,449.95)(76.7,449.92)(78.9,449.98)(80.8,450.06)(83,449.98)(85.7,449.93)(90.3,449.91)(94.4,449.88)(99.8,449.83)(105.3,449.77)(110.8,449.72)(114.9,449.67)(117.6,449.62)(120.3,449.61)(123.1,449.61)(127.2,449.59)(129.9,449.58)(131.3,449.77)(132.6,450.02)(134,450.07)(135.8,450.05)(138.1,450.02)(142.1,449.99)(147.6,449.98)(151.7,449.93)(155.8,449.84)(159.9,449.84)(164,449.83)(166.7,449.81)(169.4,450.21)(170.8,450.12)(173,450.10)(174.9,450.17)(177.1,450.16)(179,450.25)(181.7,450.14)(185.8,450.03)(189.9,449.91)(194,449.86)(199.4,449.83)(204.9,449.79)(210.3,449.74)(213.1,449.74)(214.4,449.71)(217.2,449.74)(221.3,449.70)(226.7,449.66)(233.6,449.63)(239,449.60)(244.5,449.57)(249.9,449.52)(255.3,449.52)(263.5,449.49)(264.9,449.55)(267.6,449.53)(271.7,449.51)(278.6,449.53)(284,449.51)(288.1,449.49)(292.1,449.52)(299,449.53)(301.7,449.52)(305.8,449.51)(308.5,449.55)(311.3,449.62)(313.2,449.68)(315.4,449.63)(319.5,449.63)(323.5,449.58)(334.4,449.54)(345.3,449.49)(350.2,449.47)(351.6,449.56)(353,450.05)(354.9,450.70)(356.3,450.77)(358.1,450.65)(360.9,450.54)(363.6,450.44)(365,450.35)};
\addplot[c25, line width=1.8pt, forget plot] coordinates {(1.6,451.04)(3.8,451.04)(5.7,451.08)(7.1,451.29)(8.8,451.67)(9.3,451.87)(10.4,451.61)(11.8,451.36)(13.9,451.22)(16.7,451.17)(19.4,451.08)(21.3,451.05)(24.9,451.05)(26.8,451.12)(28.4,451.40)(29.5,451.55)(30.8,451.43)(32.2,451.22)(34.4,451.12)(37.2,451.06)(39.9,451.03)(42,450.99)(44.2,451.05)(46.6,451.01)(50.7,450.96)(54,450.91)(57.6,450.95)(61.7,450.96)(65.8,450.94)(69.9,450.91)(74,450.89)(78.1,450.85)(82.2,450.83)(86.3,450.82)(91.7,450.80)};
\end{axis}
\begin{axis}[
  at={(74.3pt,59.3pt)}, anchor=south west, scale only axis,
  width=463pt, height=286.7pt,
  xmin=-5.8, xmax=373.2, ymin=0.221, ymax=3.224, y dir=reverse,
  axis y line*=right, hide x axis,
  axis line style={draw=axgray, line width=1pt, -},
  ytick={0.25,0.5,0.75,1,1.25,1.5,1.75,2,2.25,2.5,2.75,3},
  tick style={axgray, line width=0.8pt}, major tick length=5pt, tick align=outside,
  yticklabel style={font=\tickfont\fontsize{8}{9}\selectfont,
    /pgf/number format/fixed, /pgf/number format/fixed zerofill,
    /pgf/number format/precision=2, /pgf/number format/use comma,
    /pgf/number format/assume math mode=true},
]
\addplot[draw=none, forget plot] coordinates {(0,1)};
\end{axis}
% ---------- texts ----------
\node[anchor=base west, inner sep=0pt, font=\bfseries\fontsize{17.5}{20}\selectfont] at (24,377.5) {Messstelle: OSCHWITZ-ZAUN 21A};
\node[anchor=base east, inner sep=0pt, font=\bfseries\fontsize{17.5}{20}\selectfont] at (592,377.5) {Nr: 6116};
\node[anchor=base west, inner sep=0pt, font=\fontsize{12}{14}\selectfont] at (24,361) {Grundwasserleiter: Quartär};
\node[anchor=base east, inner sep=0pt, font=\fontsize{12}{14}\selectfont] at (592,361) {Zeitraum: Mai 1959 - Apr 2025};
\node[rotate=90, inner sep=0pt, font=\fontsize{12}{14}\selectfont] at (21,207) {Grundwasserstand [m ü. NN]};
\node[rotate=-90, inner sep=0pt, font=\fontsize{12}{14}\selectfont] at (579,206) {Grundwasserstand [m u. Gelände]};
\node[anchor=base west, inner sep=0pt, font=\fontsize{11}{13}\selectfont] at (22,6) {erstellt:\ \ 04.04.2025};
\node[anchor=base, inner sep=0pt, font=\fontsize{11}{13}\selectfont] at (315,6) {- Rohdaten -};
\node[anchor=base east, inner sep=0pt, font=\fontsize{11}{13}\selectfont, text=linkblue] at (592,6) {Quelle: www.lfu.bayern.de};
\end{tikzpicture}
\end{document}
